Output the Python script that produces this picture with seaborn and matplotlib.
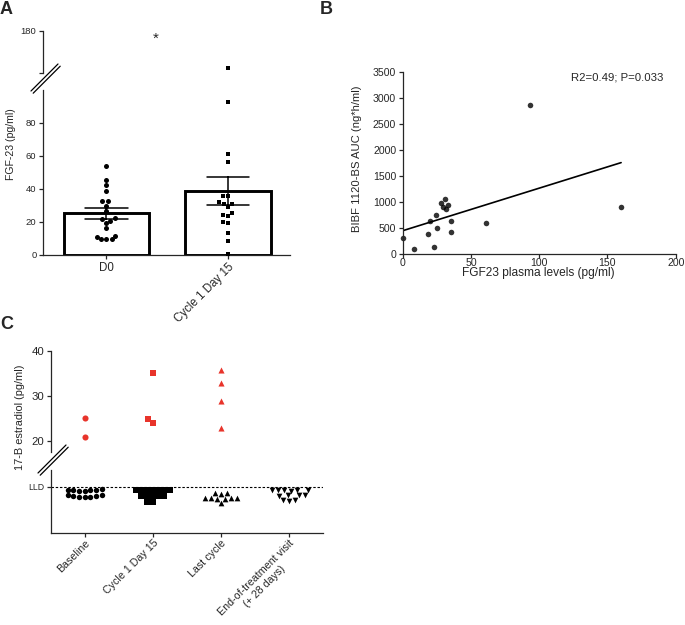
import numpy as np
import pandas as pd
import matplotlib
matplotlib.use("Agg")
import matplotlib.pyplot as plt
import seaborn as sns
from matplotlib.lines import Line2D

# ---------------- data ----------------
# Panel A: FGF-23 (pg/ml)
a_groups = ["D0", "Cycle 1 Day 15"]
a_d0 = [54.1, 45.5, 42.4, 38.8, 32.7, 32.7, 29.9, 26.9, 21.6, 22.2, 20.6,
        19.2, 16.2, 11.7, 11.1, 9.5, 9.5, 9.5]
a_c1d15 = [158.0, 92.9, 61.2, 56.5, 35.8, 35.8, 30.9, 30.9, 31.9, 29.3, 25.6,
           24.2, 23.8, 20.2, 19.2, 13.1, 8.5, 0.4]
a_yticks_low = [0, 20, 40, 60, 80]
a_yticks_high = [155, 180]
a_star = "*"

# Panel B: AUC vs FGF23
b_fgf23 = [0, 8.1, 18.8, 20.0, 23.2, 24.2, 25.2, 27.8, 31.0, 29.8, 31.7, 33.0,
           35.2, 35.2, 60.8, 93.0, 160.0]
b_auc = [300, 100, 390, 633, 141, 755, 493, 973, 1056, 896, 870, 934,
         633, 429, 601, 2867, 896]
b_xticks = [0, 50, 100, 150, 200]
b_yticks = [0, 500, 1000, 1500, 2000, 2500, 3000, 3500]
b_note = "R2=0.49; P=0.033"

# Panel C: 17-B estradiol (pg/ml)
c_groups = ["Baseline", "Cycle 1 Day 15", "Last cycle",
            "End-of-treatment visit\n(+ 28 days)"]
c_markers = ["o", "s", "^", "v"]
c_above = [[25.0, 20.9], [35.0, 24.0, 24.9], [35.8, 32.8, 28.9, 22.9], []]
c_lld = 5.0
c_below = [
    [4.7, 4.55, 4.62, 4.68, 4.5, 4.66, 4.6,
     3.95, 4.1, 3.85, 3.92, 4.05, 3.95, 3.85],
    [4.66, 4.64, 4.62, 4.66, 4.6, 4.64, 4.62,
     4.0, 3.98, 3.96, 4.0, 3.95,
     3.35, 3.3],
    [4.3, 4.25, 4.32,
     3.78, 3.72, 3.82, 3.75, 3.8, 3.7,
     3.24],
    [4.66, 4.64, 4.6, 4.66, 4.58, 4.64,
     4.1, 4.05, 4.15, 4.0,
     3.56, 3.5, 3.6],
]
c_yticks_high = [20, 30, 40]

# ---------------- style ----------------
sns.set_theme(style="ticks")
plt.rcParams["font.family"] = ["Liberation Sans", "DejaVu Sans"]
plt.rcParams["axes.linewidth"] = 0.9
plt.rcParams["xtick.major.width"] = 0.9
plt.rcParams["ytick.major.width"] = 0.9
plt.rcParams["xtick.major.size"] = 3.2
plt.rcParams["ytick.major.size"] = 3.2
plt.rcParams["xtick.major.pad"] = 1.5
plt.rcParams["ytick.major.pad"] = 1.5

W, H = 685, 625
fig = plt.figure(figsize=(W / 100, H / 100), dpi=100)


def rect(x0, y0, x1, y1):
    return [x0 / W, 1 - y1 / H, (x1 - x0) / W, (y1 - y0) / H]


def brk(x0, y0, x1, y1, off=2.2):
    for d in (0, off):
        fig.add_artist(Line2D([(x0 + d) / W, (x1 + d) / W],
                              [1 - (y0 + d) / H, 1 - (y1 + d) / H],
                              transform=fig.transFigure, color="black", lw=0.9))


RED = "#E8342B"

# ---------------- Panel A ----------------
axA = fig.add_axes(rect(43, 90, 290, 255))
axAu = fig.add_axes(rect(43, 31, 290, 73))

dfA = pd.DataFrame({"grp": ["D0"] * len(a_d0) + ["Cycle 1 Day 15"] * len(a_c1d15),
                    "val": a_d0 + a_c1d15})
sns.barplot(data=dfA, x="grp", y="val", order=a_groups, errorbar="se",
            capsize=0.35, width=0.7, color="white", edgecolor="black",
            linewidth=2.1, err_kws={"color": "black", "linewidth": 1.1}, ax=axA)
for ax, lim in ((axA, (0, 100)), (axAu, (155, 180))):
    ax.set_ylim(*lim)
    sns.swarmplot(x=["D0"] * len(a_d0), y=a_d0, order=a_groups, marker="o",
                  color="black", size=3.6, ax=ax)
    sns.swarmplot(x=["Cycle 1 Day 15"] * len(a_c1d15), y=a_c1d15, order=a_groups,
                  marker="s", color="black", size=3.4, ax=ax)
    ax.set_xlim(-0.52, 1.51)
    ax.set_ylim(*lim)
    ax.set_xlabel("")
    ax.set_ylabel("")
    sns.despine(ax=ax)

axA.set_yticks(a_yticks_low)
axA.tick_params(axis="y", labelsize=6.8)
axA.set_xticks([0, 1])
axA.set_xticklabels(a_groups, fontsize=8.3)
lbls = axA.get_xticklabels()
lbls[1].set_rotation(45)
lbls[1].set_ha("right")
lbls[1].set_rotation_mode("anchor")

axAu.set_yticks(a_yticks_high)
axAu.set_yticklabels(["", "180"])
axAu.tick_params(axis="y", labelsize=6.8)
axAu.spines["bottom"].set_visible(False)
axAu.set_xticks([])
axAu.patch.set_alpha(0)
axAu.text(0.41, 175.5, a_star, ha="center", va="center", fontsize=11)

brk(31, 91, 58, 64)
fig.text(11 / W, 1 - 144 / H, "FGF-23 (pg/ml)", rotation=90, ha="center",
         va="center", fontsize=7.6)

# ---------------- Panel B ----------------
axB = fig.add_axes(rect(402.7, 71.7, 675.7, 254))
sns.regplot(x=b_fgf23, y=b_auc, ci=None, ax=axB,
            scatter_kws={"s": 16, "color": "black", "linewidths": 0},
            line_kws={"color": "black", "lw": 1.2})
axB.set_xlim(0, 200)
axB.set_ylim(0, 3500)
axB.set_xticks(b_xticks)
axB.set_yticks(b_yticks)
axB.tick_params(labelsize=7.6)
axB.tick_params(axis="x", length=2.8, pad=0.3)
axB.text(191, 3390, b_note, ha="right", va="center", fontsize=8.2)
sns.despine(ax=axB)
for coll in axB.collections:
    coll.set_clip_on(False)
fig.text(538 / W, 1 - 273 / H, "FGF23 plasma levels (pg/ml)", ha="center",
         va="center", fontsize=8.6)
fig.text(357.5 / W, 1 - 159 / H, "BIBF 1120-BS AUC (ng*h/ml)", rotation=90,
         ha="center", va="center", fontsize=8.1)

# ---------------- Panel C ----------------
axCu = fig.add_axes(rect(50.7, 350.7, 323, 452))
axC = fig.add_axes(rect(50.7, 470, 323, 533))
axCu.set_ylim(17.5, 40)
axC.set_ylim(0, 6.8)
for i, g in enumerate(c_groups):
    if c_above[i]:
        sns.swarmplot(x=[g] * len(c_above[i]), y=c_above[i], order=c_groups,
                      marker=c_markers[i], color=RED, size=4.4, ax=axCu)
    sns.swarmplot(x=[g] * len(c_below[i]), y=c_below[i], order=c_groups,
                  marker=c_markers[i], color="black",
                  size=4.1 if c_markers[i] in "^v" else 3.9, ax=axC)
for ax in (axC, axCu):
    ax.set_xlim(-0.5, 3.5)
    ax.set_xlabel("")
    ax.set_ylabel("")
    sns.despine(ax=ax)
axCu.set_ylim(17.5, 40)
axCu.set_yticks(c_yticks_high)
axCu.tick_params(axis="y", labelsize=8.2)
axCu.spines["bottom"].set_visible(False)
axCu.set_xticks([])
axCu.patch.set_alpha(0)

axC.set_ylim(0, 6.8)
axC.set_yticks([c_lld])
axC.set_yticklabels(["LLD"], fontsize=6.3)
axC.axhline(c_lld, color="black", lw=0.8, ls=(0, (2.2, 1.6)), zorder=0)
axC.set_xticks(range(len(c_groups)))
axC.set_xticklabels(c_groups, rotation=45, ha="right", rotation_mode="anchor",
                    fontsize=7.7, multialignment="center")
axC.tick_params(axis="x", pad=0.5)

brk(38, 473, 66, 445)
fig.text(20 / W, 1 - 417 / H, "17-B estradiol (pg/ml)", rotation=90,
         ha="center", va="center", fontsize=7.9)

# panel letters
fig.text(0 / W, 1 - 1 / H, "A", fontsize=13, fontweight="bold", ha="left", va="top")
fig.text(320 / W, 1 - 1 / H, "B", fontsize=13, fontweight="bold", ha="left", va="top")
fig.text(0 / W, 1 - 316 / H, "C", fontsize=13, fontweight="bold", ha="left", va="top")

fig.savefig("out.png", dpi=100)
